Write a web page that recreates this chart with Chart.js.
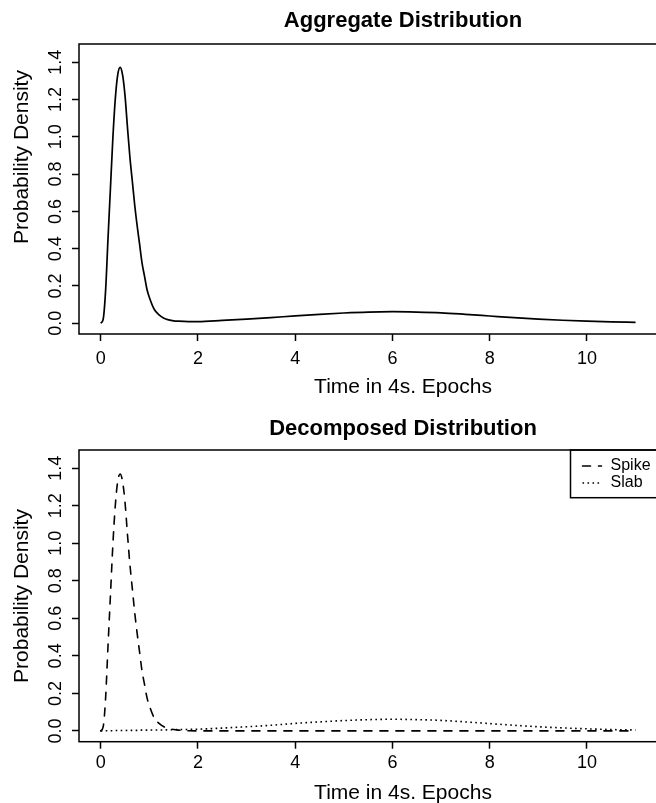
<!DOCTYPE html>
<html>
<head>
<meta charset="utf-8">
<script src="https://cdn.jsdelivr.net/npm/chart.js@4.4.0/dist/chart.umd.min.js"></script>
<style>
  html, body { margin: 0; padding: 0; background: #fff; overflow: hidden; }
  #wrap { position: relative; width: 656px; height: 803px; overflow: hidden; }
  .panel { position: absolute; left: 0; }
  canvas { display: block; }
</style>
</head>
<body>
<div id="wrap">
  <div class="panel" style="top:0"><canvas id="topChart" width="727" height="400"></canvas></div>
  <div class="panel" style="top:400px"><canvas id="bottomChart" width="727" height="420"></canvas></div>
</div>
<script>
// time in 4s epochs, and density values
const epochs = [0, 0.05, 0.1, 0.15, 0.2, 0.25, 0.3, 0.35, 0.4, 0.45, 0.5, 0.55, 0.6, 0.65, 0.7, 0.75,
  0.8, 0.85, 0.9, 0.95, 1.0, 1.1, 1.2, 1.3, 1.4, 1.5, 1.6, 1.8, 2.0, 2.5, 3.0, 3.5, 4.0, 4.5, 5.0,
  5.5, 6.0, 6.5, 7.0, 7.5, 8.0, 8.5, 9.0, 9.5, 10.0, 10.5, 11.0];

const aggregate = [0, 0.02, 0.171, 0.451, 0.721, 0.991, 1.202, 1.332, 1.372, 1.332, 1.222, 1.053,
  0.893, 0.763, 0.633, 0.523, 0.424, 0.324, 0.254, 0.184, 0.139, 0.075, 0.045, 0.027, 0.018, 0.013,
  0.011, 0.009, 0.009, 0.015, 0.022, 0.030, 0.040, 0.048, 0.055, 0.060, 0.062, 0.060, 0.056, 0.048,
  0.039, 0.030, 0.022, 0.016, 0.011, 0.007, 0.005];

const spike = [0, 0.02, 0.17, 0.45, 0.72, 0.99, 1.20, 1.33, 1.37, 1.33, 1.22, 1.05, 0.89, 0.76,
  0.63, 0.52, 0.42, 0.32, 0.25, 0.18, 0.135, 0.07, 0.04, 0.022, 0.012, 0.007, 0.004, 0.001, 0,
  0, 0, 0, 0, 0, 0, 0, 0, 0, 0, 0, 0, 0, 0, 0, 0, 0, 0];

const slab = [0, 0, 0.001, 0.001, 0.001, 0.001, 0.002, 0.002, 0.002, 0.002, 0.002, 0.003, 0.003,
  0.003, 0.003, 0.003, 0.004, 0.004, 0.004, 0.004, 0.004, 0.005, 0.005, 0.005, 0.006, 0.006, 0.007,
  0.008, 0.009, 0.015, 0.022, 0.030, 0.040, 0.048, 0.055, 0.060, 0.062, 0.060, 0.056, 0.048, 0.039,
  0.030, 0.022, 0.016, 0.011, 0.007, 0.005];

const xTicks = [0, 2, 4, 6, 8, 10];
const yTicks = [0, 0.2, 0.4, 0.6, 0.8, 1.0, 1.2, 1.4];

const FONT = "'Liberation Sans', Arial, Helvetica, sans-serif";
Chart.defaults.font.family = FONT;
Chart.defaults.color = '#000';

function pts(values) {
  return epochs.map((x, i) => ({ x: x, y: values[i] }));
}

// plot box like R's bty="o"
const frame = {
  id: 'frame',
  afterDraw(chart) {
    const { ctx, chartArea: a } = chart;
    ctx.save();
    ctx.strokeStyle = '#000';
    ctx.lineWidth = 1.5;
    ctx.strokeRect(a.left, a.top, a.right - a.left, a.bottom - a.top);
    ctx.restore();
  }
};

// y axis title, placed where it sits in the figure
const yLabel = {
  id: 'yLabel',
  afterDraw(chart, args, opts) {
    const ctx = chart.ctx;
    ctx.save();
    ctx.translate(opts.x, opts.y);
    ctx.rotate(-Math.PI / 2);
    ctx.font = '21px ' + FONT;
    ctx.fillStyle = '#000';
    ctx.textAlign = 'center';
    ctx.textBaseline = 'middle';
    ctx.fillText(opts.text, 0, 0);
    ctx.restore();
  }
};

// boxed legend in the top right corner
const boxLegend = {
  id: 'boxLegend',
  afterDraw(chart, args, opts) {
    if (!opts.show) return;
    const { ctx, chartArea: a } = chart;
    ctx.save();
    ctx.strokeStyle = '#000';
    ctx.lineWidth = 1.5;
    ctx.strokeRect(opts.left, a.top, a.right - opts.left, opts.bottom - a.top);
    ctx.font = '16px ' + FONT;
    ctx.fillStyle = '#000';
    ctx.textBaseline = 'middle';
    chart.data.datasets.forEach((ds, i) => {
      const y = opts.rows[i];
      ctx.lineWidth = ds.borderWidth;
      ctx.lineCap = ds.borderCapStyle;
      ctx.setLineDash(ds.borderDash);
      ctx.beginPath();
      ctx.moveTo(opts.left + 12, y);
      ctx.lineTo(opts.left + 31, y);
      ctx.stroke();
      ctx.setLineDash([]);
      ctx.fillText(ds.label, opts.left + 40, y);
    });
    ctx.restore();
  }
};

function makeConfig(title, datasets, o) {
  return {
    type: 'line',
    data: { datasets: datasets },
    plugins: [frame, yLabel, boxLegend],
    options: {
      responsive: false,
      animation: false,
      events: [],
      layout: { padding: 0 },
      elements: { point: { radius: 0 } },
      scales: {
        x: {
          type: 'linear',
          min: -0.446,
          max: 12.88,
          border: { display: false },
          grid: { drawOnChartArea: false, drawTicks: true, tickLength: 7, tickWidth: 1.5, tickColor: '#000' },
          ticks: {
            font: { size: 18 },
            padding: o.xPad,
            maxRotation: 0,
            callback: (v) => String(v)
          },
          afterBuildTicks: (scale) => { scale.ticks = xTicks.map(v => ({ value: v })); },
          title: {
            display: true,
            text: 'Time in 4s. Epochs',
            font: { size: 21 },
            padding: { top: 0, bottom: o.xTitlePad }
          },
          afterFit: (scale) => { scale.height = o.xHeight; }
        },
        y: {
          type: 'linear',
          min: -0.0576,
          max: 1.4976,
          border: { display: false },
          grid: { drawOnChartArea: false, drawTicks: true, tickLength: 7, tickWidth: 1.5, tickColor: '#000' },
          ticks: {
            font: { size: 18 },
            minRotation: 90,
            maxRotation: 90,
            crossAlign: 'center',
            padding: 3.5,
            callback: (v) => v.toFixed(1)
          },
          afterBuildTicks: (scale) => { scale.ticks = yTicks.map(v => ({ value: v })); },
          afterFit: (scale) => { scale.width = 79; }
        }
      },
      plugins: {
        legend: { display: false },
        tooltip: { enabled: false },
        title: {
          display: true,
          text: title,
          fullSize: false,
          font: { size: 22, weight: 'bold', lineHeight: 1 },
          padding: { top: o.tTop, bottom: o.tBottom }
        },
        yLabel: { text: 'Probability Density', x: 22, y: o.yLabelY },
        boxLegend: o.legend
      }
    }
  };
}

new Chart(document.getElementById('topChart'), makeConfig('Aggregate Distribution', [{
  label: 'Aggregate',
  data: pts(aggregate),
  borderColor: '#000',
  borderWidth: 1.7,
  cubicInterpolationMode: 'monotone',
  fill: false
}], {
  xPad: 7, xTitlePad: 0.5, xHeight: 66, tTop: 10, tBottom: 12, yLabelY: 157,
  legend: { show: false }
}));

new Chart(document.getElementById('bottomChart'), makeConfig('Decomposed Distribution', [{
  label: 'Spike',
  data: pts(spike),
  borderColor: '#000',
  borderWidth: 1.6,
  borderDash: [8, 8],
  borderCapStyle: 'round',
  cubicInterpolationMode: 'monotone',
  fill: false
}, {
  label: 'Slab',
  data: pts(slab),
  borderColor: '#000',
  borderWidth: 1.6,
  borderDash: [1.6, 3.4],
  borderCapStyle: 'butt',
  cubicInterpolationMode: 'monotone',
  fill: false
}], {
  xPad: 4, xTitlePad: 14.4, xHeight: 78.3, tTop: 18, tBottom: 10, yLabelY: 196,
  legend: { show: true, left: 570.5, bottom: 97.7, rows: [66, 83] }
}));
</script>
</body>
</html>
